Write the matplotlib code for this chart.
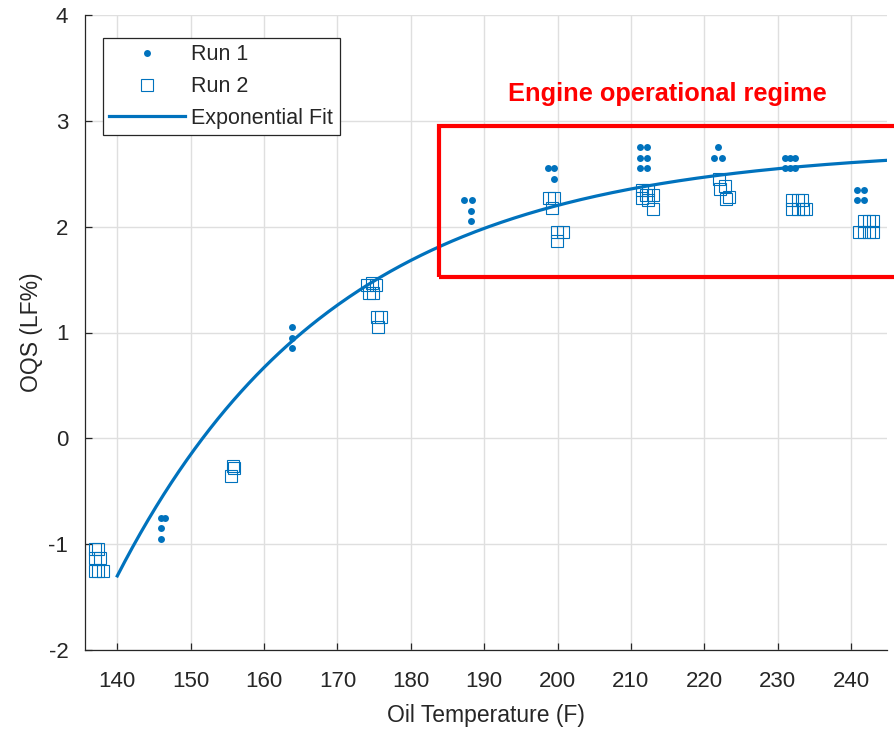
import numpy as np
import matplotlib
matplotlib.use("Agg")
import matplotlib.pyplot as plt
from matplotlib.patches import Rectangle

plt.rcParams["font.family"] = ["Liberation Sans", "DejaVu Sans"]
plt.rcParams["axes.unicode_minus"] = False

# Run 1 measurements: oil temperature (F) and OQS (LF%)
run1_temp = [146.0, 146.5, 146.0, 145.9,
             163.8, 163.8, 163.8,
             187.3, 188.4, 188.2, 188.2,
             198.7, 199.5, 199.5,
             211.2, 212.2, 211.2, 212.2, 211.2, 212.2,
             221.9, 221.3, 222.4,
             231.0, 231.7, 232.4, 231.0, 231.7, 232.4,
             240.8, 241.8, 240.8, 241.8]
run1_oqs = [-0.75, -0.75, -0.85, -0.95,
            1.05, 0.95, 0.85,
            2.25, 2.25, 2.15, 2.05,
            2.55, 2.55, 2.45,
            2.75, 2.75, 2.65, 2.65, 2.55, 2.55,
            2.75, 2.65, 2.65,
            2.65, 2.65, 2.65, 2.55, 2.55, 2.55,
            2.35, 2.35, 2.25, 2.25]

# Run 2 measurements
run2_temp = [136.9, 137.4, 137.0, 137.7, 136.9, 137.4, 138.0,
             155.8, 155.5, 155.9,
             174.1, 174.7, 175.3, 174.3, 174.8, 175.4, 176.0, 175.5,
             198.8, 199.5, 199.2, 199.9, 200.7, 199.9,
             211.5, 212.3, 211.5, 212.3, 212.0, 213.0, 213.0,
             222.0, 222.8, 223.4, 222.1, 222.9,
             232.0, 232.8, 233.3, 232.0, 232.8, 233.5, 233.9,
             241.7, 242.4, 243.0, 241.1, 241.7, 242.4, 243.0]
run2_oqs = [-1.05, -1.05, -1.13, -1.13, -1.25, -1.25, -1.25,
            -0.26, -0.36, -0.28,
            1.45, 1.47, 1.45, 1.37, 1.37, 1.15, 1.15, 1.05,
            2.27, 2.27, 2.18, 1.95, 1.95, 1.86,
            2.35, 2.35, 2.27, 2.25, 2.30, 2.30, 2.17,
            2.45, 2.38, 2.28, 2.36, 2.26,
            2.25, 2.25, 2.25, 2.17, 2.17, 2.17, 2.17,
            2.05, 2.05, 2.05, 1.95, 1.95, 1.95, 1.95]

# Exponential fit: OQS = a - b * exp(-k * (T - T0))
fit_a, fit_b, fit_k, fit_t0 = 2.75, 4.05, 0.0333, 140.0
fit_range = (140.0, 245.0)

x_ticks = [140, 150, 160, 170, 180, 190, 200, 210, 220, 230, 240]
y_ticks = [-2, -1, 0, 1, 2, 3, 4]

# Operational regime box (temperature span, OQS span)
regime_temp = (183.9, 250.0)
regime_oqs = (1.52, 2.95)
regime_label = "Engine operational regime"

blue = "#0072BD"
dark = "#262626"

fig = plt.figure(figsize=(8.95, 7.33), dpi=100)
ax = fig.add_axes([85 / 895, 1 - 650 / 733, 802 / 895, 635 / 733])

ax.plot(run1_temp, run1_oqs, linestyle="none", marker="o", ms=5,
        mew=0, color=blue, label="Run 1", zorder=3)
ax.plot(run2_temp, run2_oqs, linestyle="none", marker="s", ms=8.6,
        mew=0.8, mfc="none", mec=blue, label="Run 2", zorder=3)

t_fit = np.linspace(fit_range[0], fit_range[1], 300)
oqs_fit = fit_a - fit_b * np.exp(-fit_k * (t_fit - fit_t0))
ax.plot(t_fit, oqs_fit, color=blue, lw=2.3, label="Exponential Fit", zorder=4)

ax.add_patch(Rectangle((regime_temp[0], regime_oqs[0]),
                       regime_temp[1] - regime_temp[0],
                       regime_oqs[1] - regime_oqs[0],
                       fill=False, edgecolor="#FF0000", lw=3, clip_on=False,
                       zorder=5))
ax.text(215.0, 3.19, regime_label, color="#FF0000", fontsize=18.3,
        fontweight="bold", ha="center", va="baseline")

ax.set_xlim(135.6, 244.9)
ax.set_ylim(-2, 4)
ax.set_xticks(x_ticks)
ax.set_yticks(y_ticks)
ax.grid(True, color="#dfdfdf", lw=1.0)
ax.set_axisbelow(True)

for side in ("top", "right"):
    ax.spines[side].set_visible(False)
for side in ("left", "bottom"):
    ax.spines[side].set_color(dark)
    ax.spines[side].set_linewidth(0.9)

ax.tick_params(direction="in", length=5, width=0.9, color=dark,
               labelcolor=dark, labelsize=16)
ax.tick_params(axis="y", pad=12)
ax.tick_params(axis="x", pad=15)

ax.set_xlabel("Oil Temperature (F)", fontsize=16.5, color=dark, labelpad=9)
ax.set_ylabel("OQS (LF%)", fontsize=16.5, color=dark, labelpad=4)

leg = ax.legend(loc="upper left", bbox_to_anchor=(0.0224, 0.9638),
                borderaxespad=0, fontsize=15.5, numpoints=1,
                handlelength=3.5, handletextpad=0.3, labelspacing=0.5,
                borderpad=0.3, fancybox=False, framealpha=1)
leg.get_frame().set_edgecolor(dark)
leg.get_frame().set_linewidth(0.9)
for txt in leg.get_texts():
    txt.set_color(dark)

fig.savefig("out.png", dpi=100)
